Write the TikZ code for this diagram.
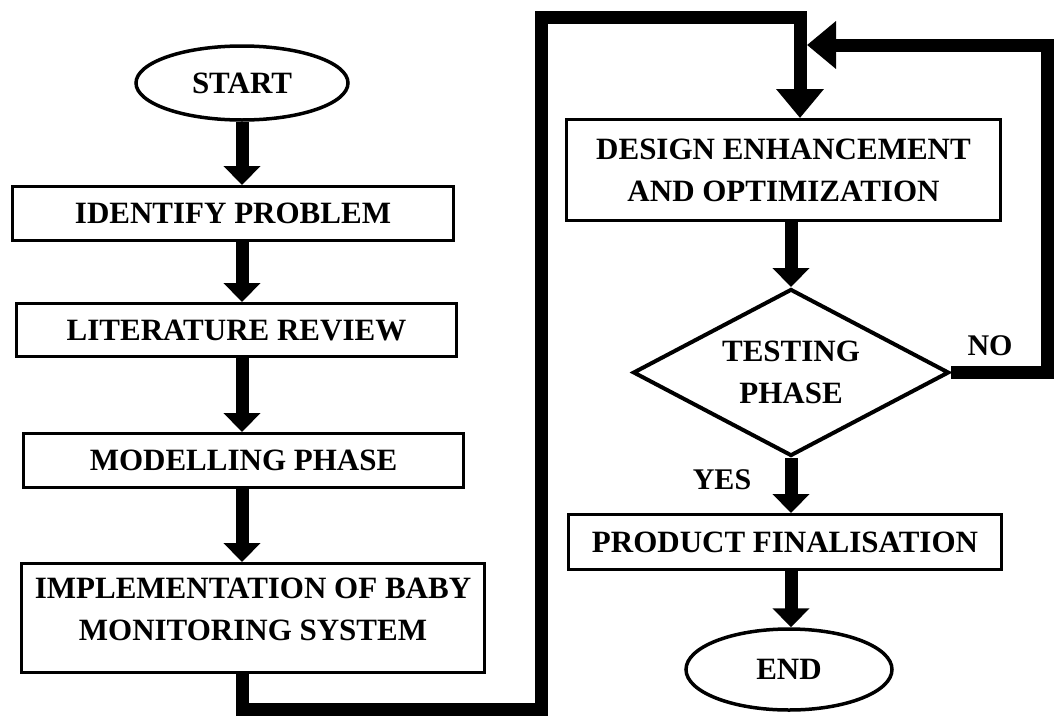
\documentclass[tikz,border=0pt]{standalone}
\usepackage{fontspec}
\setmainfont{Liberation Serif}
\usetikzlibrary{positioning, arrows.meta, shapes.geometric}

\begin{document}
\begin{tikzpicture}[x=1pt, y=-1pt, line join=miter,
      arr/.style={line width=13pt, -{Triangle[length=19pt,width=36pt]}},
      bigarr/.style={line width=13pt, -{Triangle[length=29pt,width=46pt]}},
      main/.style={rectangle, draw, line width=3pt, inner sep=0pt, align=center,
        font=\bfseries\fontsize{31}{42}\selectfont},
      term/.style={main, ellipse, line width=3.5pt},
      test/.style={main, diamond, aspect=2, line width=4pt},
      lbl/.style={font=\bfseries\fontsize{30}{42}\selectfont}]

      \useasboundingbox (0,0) rectangle (1054,715);

      \node[term, minimum width=212pt, minimum height=74pt] (S) at (242,83) {START};
      \node[main, minimum width=441pt, minimum height=54pt] (I) at (233,213.5) {IDENTIFY PROBLEM};
      \node[main, minimum width=440pt, minimum height=53pt] (L) at (236.5,330) {LITERATURE REVIEW};
      \node[main, minimum width=440pt, minimum height=54pt] (M) at (243.5,460.5) {MODELLING PHASE};
      \node[main, minimum width=463pt, minimum height=109pt, text depth=18pt] (B) at (253,618)
        {IMPLEMENTATION OF BABY\\MONITORING SYSTEM};

      \node[main, minimum width=434pt, minimum height=101pt] (D) at (783.5,170)
        {DESIGN ENHANCEMENT\\AND OPTIMIZATION};
      \node[test, minimum width=316pt, minimum height=167pt] (T) at (791,372.5) {TESTING\\PHASE};
      \node[main, minimum width=433pt, minimum height=55pt] (P) at (785,542) {PRODUCT FINALISATION};
      \node[term, minimum width=206pt, minimum height=81pt] (E) at (789,669.5) {END};

      \node[lbl] (no) at (990,346) {NO};
      \node[lbl] (yes) at (722,480) {YES};

      \coordinate (c1) at (242,709);
      \coordinate (c2) at (541,709);
      \coordinate (c3) at (541,17);
      \coordinate (c4) at (800,17);
      \coordinate (c5) at (1047,45);
      \coordinate (c6) at (807,45);

      \draw[arr] (S) -- (S |- I.north);
      \draw[arr] (I.south -| S) -- (L.north -| S);
      \draw[arr] (L.south -| S) -- (M.north -| S);
      \draw[arr] (M.south -| S) -- (B.north -| S);
      \draw[bigarr] (B.south -| c1) -- (c1) -- (c2) -- (c3) -- (c4) -- (c4 |- D.north);
      \draw[arr] (D.south -| T) -- (T.north);
      \draw[bigarr] (T.east) -| (c5) -- (c6);
      \draw[arr] (T.south) -- (P.north -| T);
      \draw[arr] (P.south -| T) -- (E.north -| T);
    \end{tikzpicture}
\end{document}
